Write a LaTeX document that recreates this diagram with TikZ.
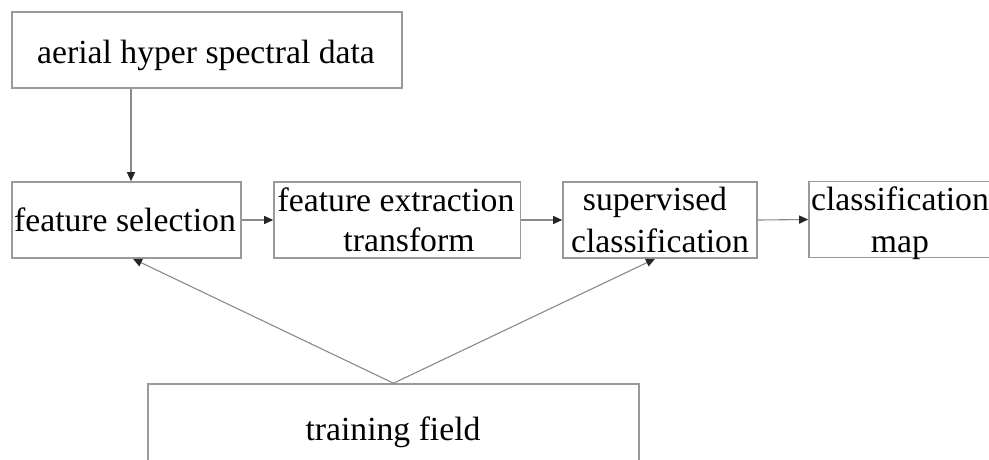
\documentclass[tikz,border=0pt]{standalone}
\usepackage{fontspec}
\setmainfont{Liberation Serif}
\usetikzlibrary{arrows.meta}
\definecolor{boxgray}{HTML}{9A9A9A}
\definecolor{linegray}{HTML}{8A8A8A}
\tikzset{
  box/.style={draw=boxgray, line width=1.6pt, fill=none, inner sep=0pt, minimum height=76pt},
  txt/.style={anchor=base, inner sep=0pt, text=black, font=\fontsize{33.7}{40.4}\selectfont},
  arr/.style={draw=linegray, line width=1.1pt, -{Triangle[length=9pt,width=8pt,fill=black!85,color=black!85]}},
}
\begin{document}
\begin{tikzpicture}[x=1pt,y=-1pt]
\useasboundingbox (0,0) rectangle (989,459);
% boxes
\node[box, minimum width=390pt] (data) at (207,50) {};
\node[box, minimum width=229pt] (fs) at (126.5,220) {};
\node[box, minimum width=246.5pt] (fet) at (397.25,220) {};
\node[box, minimum width=194pt] (sc) at (660,220) {};
\node[box, minimum width=182pt] (cm) at (900,219.5) {};
\node[box, minimum width=491pt, minimum height=90pt] (tf) at (393.5,429) {};
% texts
\node[txt] (t1) at (206,63) {aerial hyper spectral data};
\node[txt] (t2) at (125,231) {feature selection};
\node[txt] (t3a) at (396,211) {feature extraction};
\node[txt] (t3b) at (409,251) {transform};
\node[txt] (t4a) at (655,210) {supervised};
\node[txt] (t4b) at (660,252) {classification};
\node[txt] (t5a) at (900,210) {classification};
\node[txt] (t5b) at (900,252) {map};
\node[txt] (t6) at (393,440) {training field};
% helper coordinates
\coordinate (c1) at (131,0);
\coordinate (c2) at (133,0);
\coordinate (c3) at (655,0);
% connectors
\draw[arr] (data.south -| c1) -- (fs.north -| c1);
\draw[arr] (fs.east) -- (fet.west);
\draw[arr] (fet.east) -- (sc.west);
\draw[arr] (sc.east) -- (cm.west);
\draw[arr] (tf.north) -- (fs.south -| c2);
\draw[arr] (tf.north) -- (sc.south -| c3);
\end{tikzpicture}
\end{document}
